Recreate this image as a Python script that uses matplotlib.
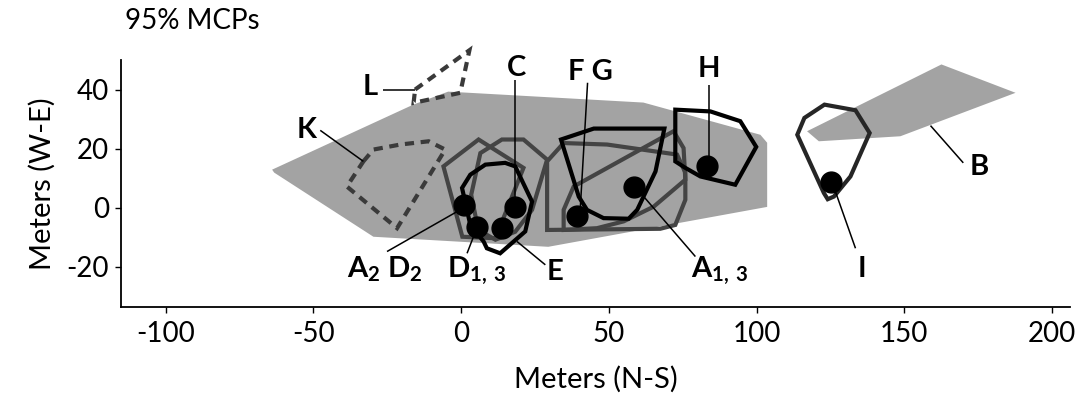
import matplotlib
matplotlib.use('Agg')
import matplotlib.pyplot as plt
from matplotlib.patches import Polygon

# 95% MCP outlines, metres (N-S, W-E)
big_gray = [(-64.0, 12.9), (-16.2, 34.9), (-4.4, 39.3), (61.7, 35.6), (101.3, 24.7),
            (103.6, 22.0), (103.6, 0.3), (29.5, -13.2), (-29.7, -9.8), (-63.3, 11.9)]
b_gray = [(117.1, 25.9), (121.1, 22.5), (148.7, 24.2), (187.7, 38.9), (162.6, 48.5)]

k_dotted = [(-33.1, 15.7), (-29.7, 19.7), (-20.6, 21.4), (-11.0, 22.5), (-5.4, 19.7),
            (-21.7, -6.9), (-38.7, 7.2)]
l_dotted = [(-15.6, 40.0), (2.8, 53.3), (-0.3, 38.9), (-16.1, 35.5)]

pent_dark = [(-6.0, 14.0), (5.9, 23.1), (21.1, 13.5), (11.6, -10.3), (0.4, -9.8)]
c_dark = [(6.5, 18.5), (13.8, 23.1), (21.1, 23.1), (29.1, 16.3), (24.0, -0.7),
          (18.3, -8.1), (11.6, -10.8), (5.8, -7.5), (3.4, 4.4)]
g_dark = [(29.1, -7.5), (29.1, 15.7), (34.7, 21.9), (49.4, 21.4), (73.1, 18.0),
          (75.9, 11.9), (75.9, 2.7), (72.5, -5.8), (67.4, -7.1)]
a13_dark = [(34.7, -7.5), (34.7, -0.7), (38.1, 7.2), (71.9, 25.9), (75.3, 20.2),
            (75.9, 9.5), (65.2, 0.4), (55.0, -4.6), (46.0, -6.9)]

e_black = [(0.3, 6.7), (3.1, 11.2), (8.2, 14.6), (14.9, 15.2), (18.3, 14.0), (24.0, 2.1),
           (21.7, -8.0), (13.2, -15.4), (8.7, -13.7), (7.6, -11.4), (3.1, -5.8)]
f_black = [(33.8, 23.1), (44.9, 26.8), (68.8, 26.8), (65.8, 12.3), (59.6, -0.7),
           (56.7, -3.7), (48.2, -3.5), (42.6, -0.7), (39.8, 3.8)]
h_black = [(72.5, 33.2), (84.4, 32.6), (94.5, 29.3), (99.9, 20.6), (92.8, 7.8),
           (81.0, 10.6), (75.9, 13.5), (72.5, 15.7)]
i_black = [(113.8, 24.7), (116.2, 30.4), (123.0, 34.9), (133.5, 33.0), (138.3, 25.3),
           (131.8, 10.6), (126.2, 3.8), (124.1, 2.9), (122.8, 5.0)]

# centres
dot_x = [0.8, 5.4, 13.8, 18.3, 39.2, 58.6, 83.4, 125.3]
dot_y = [1.0, -6.5, -6.9, 0.4, -2.9, 6.9, 14.2, 8.6]

# labels: text, x, y, leader start, leader end
labels = ["L", "K", "C", "F G", "H", "B", "I",
          r"A$_2$ D$_2$", r"D$_{1,\,3}$", "E", r"A$_{1,\,3}$"]
label_x = [-30.8, -52.2, 18.9, 43.7, 83.8, 175.3, 135.8, -25.7, 5.1, 31.8, 87.7]
label_y = [38.3, 23.7, 44.5, 43.4, 44.1, 11.2, -23.3, -23.7, -23.7, -24.4, -23.7]
leader_from = [(-26.3, 40.0), (-47.7, 26.2), (18.3, 43.4), (42.8, 42.3), (84.0, 41.7),
               (158.9, 27.8), (126.7, 5.5), (-25.1, -14.8), (2.0, -15.4), (18.9, -11.4),
               (61.8, 3.8)]
leader_to = [(-15.6, 40.0), (-33.1, 15.7), (18.3, 3.7), (40.3, -0.7), (84.0, 17.4),
             (170.0, 15.2), (133.5, -13.7), (-1.4, -1.3), (4.2, -9.7), (28.5, -19.3),
             (79.3, -16.5)]

plt.rcParams['font.family'] = ['Lato', 'DejaVu Sans']
plt.rcParams['mathtext.default'] = 'regular'
plt.rcParams['axes.unicode_minus'] = False

fig = plt.figure(figsize=(10.75, 4), dpi=100)
ax = fig.add_axes([0.113, 0.233, 0.882, 0.617])

fill_col = '#a3a3a3'
dark = '#444444'
for poly in [big_gray, b_gray]:
    ax.add_patch(Polygon(poly, closed=True, facecolor=fill_col, edgecolor='none'))

for poly in [k_dotted, l_dotted]:
    ax.add_patch(Polygon(poly, closed=True, fill=False, edgecolor='#3a3a3a', lw=3,
                         linestyle=(0, (2.2, 1.6)), clip_on=False))

for poly in [pent_dark, c_dark, g_dark, a13_dark]:
    ax.add_patch(Polygon(poly, closed=True, fill=False, edgecolor=dark, lw=3,
                         joinstyle='miter'))

for poly in [e_black, f_black, h_black]:
    ax.add_patch(Polygon(poly, closed=True, fill=False, edgecolor='black', lw=3,
                         joinstyle='miter'))
ax.add_patch(Polygon(i_black, closed=True, fill=False, edgecolor='#262626', lw=3,
                     joinstyle='miter'))

for (x0, y0), (x1, y1) in zip(leader_from, leader_to):
    ax.plot([x0, x1], [y0, y1], color='black', lw=1.1, solid_capstyle='butt')

ax.plot(dot_x, dot_y, 'o', color='black', ms=15, zorder=5)

for t, x, y in zip(labels, label_x, label_y):
    ax.text(x, y, t, ha='center', va='baseline', fontsize=21, fontweight='bold')

ax.set_xlim(-115, 206)
ax.set_ylim(-33.5, 50)
ax.set_xticks([-100, -50, 0, 50, 100, 150, 200])
ax.set_yticks([-20, 0, 20, 40])
for s in ['top', 'right']:
    ax.spines[s].set_visible(False)
for s in ['left', 'bottom']:
    ax.spines[s].set_linewidth(1.3)
ax.tick_params(axis='both', labelsize=20, length=4, width=1, direction='out')
ax.tick_params(axis='x', pad=6)
ax.tick_params(axis='y', pad=5)
ax.set_xlabel('Meters (N-S)', fontsize=21, labelpad=14)
ax.set_ylabel('Meters (W-E)', fontsize=21, labelpad=8)

fig.text(0.116, 1 - 29 / 400, '95% MCPs', fontsize=20, va='baseline', ha='left')

fig.savefig('out.png', dpi=100)
